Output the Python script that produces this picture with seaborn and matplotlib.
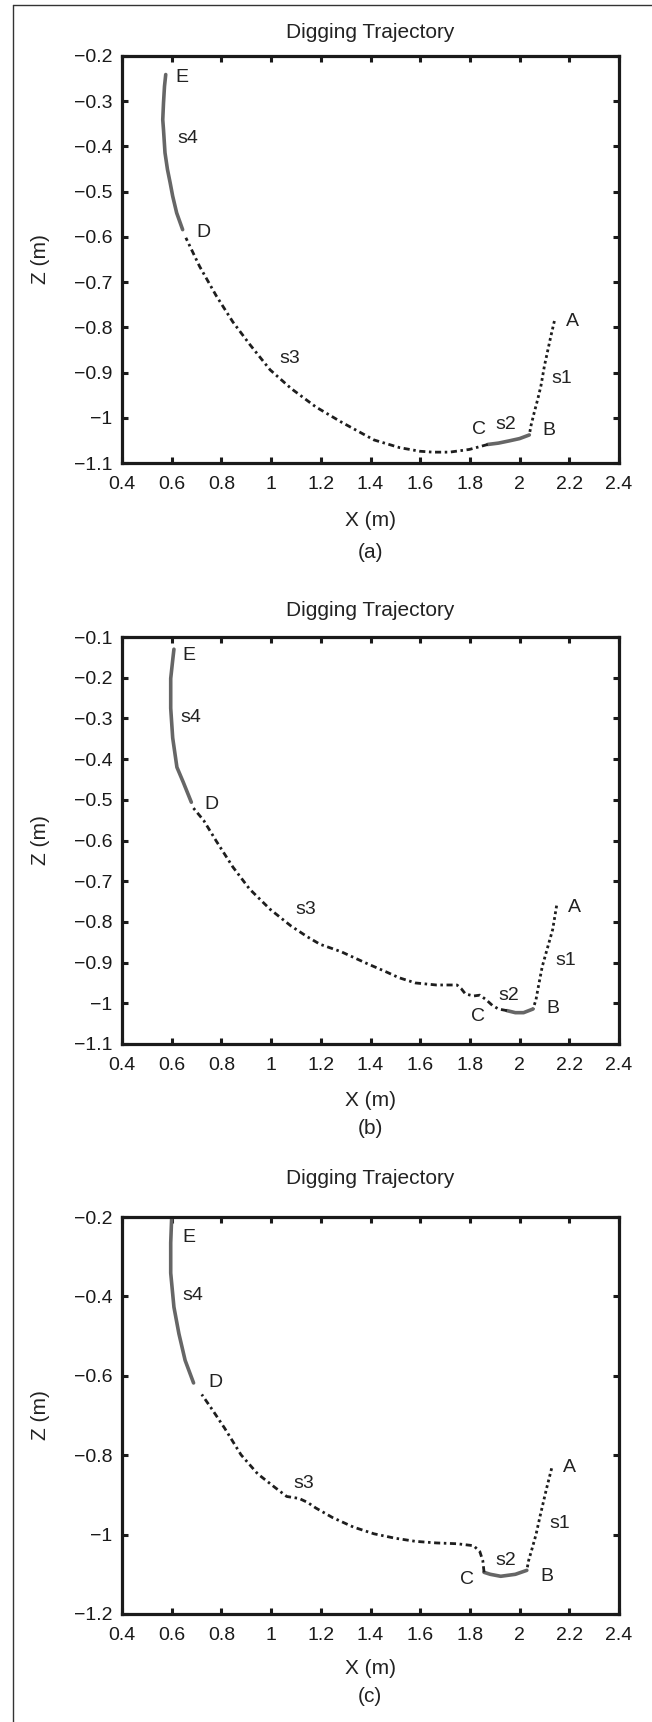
import matplotlib
matplotlib.use('Agg')
import matplotlib.pyplot as plt
from matplotlib.lines import Line2D
import seaborn as sns
import numpy as np

# panel (a)
a_s1_x = [2.140, 2.126, 2.113, 2.100, 2.086, 2.073, 2.059, 2.046, 2.039]
a_s1_z = [-0.786, -0.819, -0.852, -0.885, -0.929, -0.959, -0.988, -1.017, -1.038]
a_s2_x = [2.039, 2.000, 1.959, 1.915, 1.872]
a_s2_z = [-1.038, -1.046, -1.051, -1.056, -1.059]
a_s3_x = [1.872, 1.825, 1.798, 1.718, 1.651, 1.598, 1.517, 1.414, 1.281, 1.180,
          1.080, 0.996, 0.913, 0.846, 0.779, 0.712, 0.657]
a_s3_z = [-1.059, -1.066, -1.070, -1.076, -1.076, -1.074, -1.066, -1.049, -1.009, -0.976,
          -0.935, -0.894, -0.837, -0.788, -0.730, -0.665, -0.602]
a_s4_x = [0.644, 0.620, 0.604, 0.594, 0.583, 0.573, 0.567, 0.564, 0.567, 0.571, 0.576]
a_s4_z = [-0.584, -0.547, -0.510, -0.481, -0.451, -0.414, -0.363, -0.341, -0.304, -0.267, -0.241]

# panel (b)
b_s1_x = [2.149, 2.133, 2.108, 2.091, 2.074, 2.066, 2.054]
b_s1_z = [-0.760, -0.819, -0.873, -0.910, -0.964, -0.991, -1.014]
b_s2_x = [2.054, 2.016, 1.983, 1.949]
b_s2_z = [-1.014, -1.023, -1.023, -1.018]
b_s3_x = [1.949, 1.915, 1.890, 1.865, 1.840, 1.815, 1.782, 1.765, 1.748, 1.665,
          1.581, 1.514, 1.464, 1.381, 1.281, 1.197, 1.147, 1.080, 0.996, 0.913,
          0.846, 0.779, 0.729, 0.687]
b_s3_z = [-1.018, -1.014, -1.005, -0.991, -0.980, -0.982, -0.977, -0.964, -0.955, -0.955,
          -0.950, -0.937, -0.923, -0.901, -0.873, -0.855, -0.837, -0.810, -0.769, -0.719,
          -0.665, -0.601, -0.551, -0.520]
b_s4_x = [0.679, 0.646, 0.621, 0.604, 0.596, 0.596, 0.604, 0.609]
b_s4_z = [-0.506, -0.456, -0.420, -0.348, -0.275, -0.202, -0.157, -0.130]

# panel (c)
c_s1_x = [2.129, 2.108, 2.083, 2.066, 2.049, 2.036, 2.029]
c_s1_z = [-0.833, -0.885, -0.952, -1.000, -1.038, -1.066, -1.090]
c_s2_x = [2.029, 1.983, 1.924, 1.882, 1.857]
c_s2_z = [-1.090, -1.100, -1.105, -1.100, -1.095]
c_s3_x = [1.857, 1.852, 1.840, 1.815, 1.748, 1.665, 1.581, 1.498, 1.414, 1.331,
          1.247, 1.180, 1.147, 1.113, 1.063, 1.013, 0.946, 0.879, 0.813, 0.763, 0.721]
c_s3_z = [-1.095, -1.066, -1.043, -1.028, -1.023, -1.021, -1.017, -1.009, -0.998, -0.981,
          -0.957, -0.933, -0.919, -0.909, -0.904, -0.880, -0.847, -0.799, -0.732, -0.685, -0.647]
c_s4_x = [0.688, 0.654, 0.629, 0.609, 0.596, 0.596, 0.600]
c_s4_z = [-0.618, -0.561, -0.494, -0.427, -0.341, -0.265, -0.200]

point_names = ['E', 's4', 'D', 's3', 'C', 's2', 'B', 'A', 's1']
a_label_xy = [(0.642, -0.247), (0.666, -0.382), (0.729, -0.591), (1.075, -0.869), (1.835, -1.025),
              (1.945, -1.015), (2.119, -1.029), (2.213, -0.788), (2.169, -0.914)]
b_label_xy = [(0.671, -0.146), (0.676, -0.298), (0.758, -0.511), (1.139, -0.769), (1.832, -1.032),
              (1.957, -0.982), (2.133, -1.014), (2.220, -0.765), (2.186, -0.896)]
c_label_xy = [(0.671, -0.251), (0.687, -0.398), (0.774, -0.616), (1.133, -0.871), (1.790, -1.112),
              (1.945, -1.066), (2.108, -1.106), (2.200, -0.831), (2.161, -0.971)]

x_ticks = [0.4, 0.6, 0.8, 1.0, 1.2, 1.4, 1.6, 1.8, 2.0, 2.2, 2.4]
a_z_ticks = [-1.1, -1.0, -0.9, -0.8, -0.7, -0.6, -0.5, -0.4, -0.3, -0.2]
b_z_ticks = [-1.1, -1.0, -0.9, -0.8, -0.7, -0.6, -0.5, -0.4, -0.3, -0.2, -0.1]
c_z_ticks = [-1.2, -1.0, -0.8, -0.6, -0.4, -0.2]

sns.set_style('ticks')
plt.rcParams['font.family'] = ['Liberation Sans', 'DejaVu Sans']
plt.rcParams['axes.unicode_minus'] = True

W, H = 652, 1722
FS_TICK = 14
FS_LAB = 15
FS_PT = 14
fig = plt.figure(figsize=(W / 100, H / 100), dpi=100)

# outer frame (only top and left edges show)
fig.add_artist(Line2D([12.5 / W, 12.5 / W], [0, 1 - 5 / H], color='#333333', lw=1.0))
fig.add_artist(Line2D([12.5 / W, 1], [1 - 5 / H, 1 - 5 / H], color='#333333', lw=1.0))

black = '#1e1e1e'
gray = '#666666'
txt = '#222222'


def fmt(v):
    s = f'{v:.1f}'.rstrip('0').rstrip('.')
    return s.replace('-', '\u2212')


def panel(top, bottom, segs, zt, labels, cap, cap_y, title_y, xl_y):
    ax = fig.add_axes([122 / W, 1 - bottom / H, 497 / W, (bottom - top) / H])
    s1x, s1z, s2x, s2z, s3x, s3z, s4x, s4z = segs
    sns.lineplot(x=s1x, y=s1z, sort=False, estimator=None, ax=ax, color=black,
                 linestyle=(0, (1.0, 1.1)), linewidth=2.0)
    sns.lineplot(x=s2x, y=s2z, sort=False, estimator=None, ax=ax, color=gray,
                 linestyle='-', linewidth=2.6)
    sns.lineplot(x=s3x, y=s3z, sort=False, estimator=None, ax=ax, color=black,
                 linestyle=(0, (2.2, 1.3, 0.9, 1.3)), linewidth=2.0)
    sns.lineplot(x=s4x, y=s4z, sort=False, estimator=None, ax=ax, color=gray,
                 linestyle='-', linewidth=2.6)
    for name, (lx, lz) in zip(point_names, labels):
        ax.text(lx, lz, name, ha='center', va='center', fontsize=FS_PT, color=txt)
    ax.set_xlim(0.4, 2.4)
    ax.set_ylim(zt[0], zt[-1])
    ax.set_xticks(x_ticks)
    ax.set_xticklabels([fmt(v) for v in x_ticks])
    ax.set_yticks(zt)
    ax.set_yticklabels([fmt(v) for v in zt])
    ax.tick_params(direction='in', top=True, right=True, length=4.5, width=2.2,
                   labelsize=FS_TICK, colors='#1a1a1a')
    ax.tick_params(axis='x', pad=9.5)
    ax.tick_params(axis='y', pad=7)
    for sp in ax.spines.values():
        sp.set_linewidth(2.3)
        sp.set_color('#1a1a1a')
        sp.set_visible(True)
    ax.set_xlabel('')
    ax.set_ylabel('')
    fig.text(370 / W, 1 - title_y / H, 'Digging Trajectory', ha='center', va='center',
             fontsize=FS_LAB, color=txt)
    fig.text(370 / W, 1 - xl_y / H, 'X (m)', ha='center', va='center', fontsize=FS_LAB,
             color=txt)
    fig.text(370 / W, 1 - cap_y / H, cap, ha='center', va='center', fontsize=FS_LAB,
             color=txt)
    fig.text(40 / W, 1 - (top + bottom) / 2 / H, 'Z (m)', ha='center', va='center',
             rotation=90, fontsize=FS_LAB, color=txt)
    return ax


panel(56, 463, [a_s1_x, a_s1_z, a_s2_x, a_s2_z, a_s3_x, a_s3_z, a_s4_x, a_s4_z],
      a_z_ticks, a_label_xy, '(a)', 552, 33, 520)
panel(637, 1044, [b_s1_x, b_s1_z, b_s2_x, b_s2_z, b_s3_x, b_s3_z, b_s4_x, b_s4_z],
      b_z_ticks, b_label_xy, '(b)', 1128, 610, 1101)
panel(1217, 1614, [c_s1_x, c_s1_z, c_s2_x, c_s2_z, c_s3_x, c_s3_z, c_s4_x, c_s4_z],
      c_z_ticks, c_label_xy, '(c)', 1697, 1179, 1668)

fig.savefig('out.png', dpi=100)
